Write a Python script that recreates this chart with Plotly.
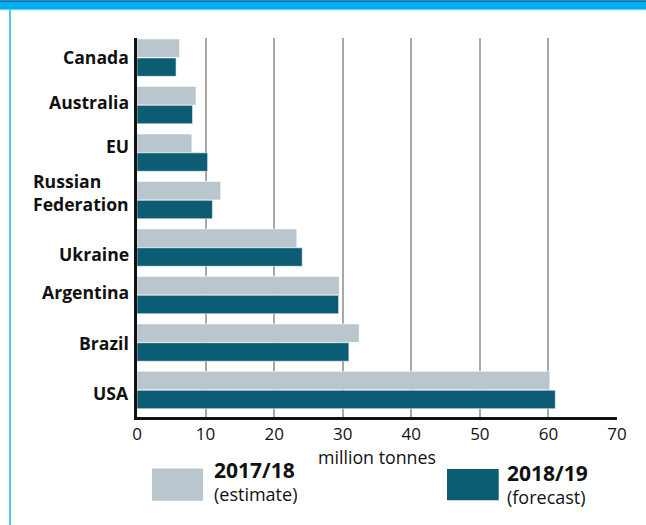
import plotly.graph_objects as go

# Export volumes, million tonnes
countries = ["Canada", "Australia", "EU", "Russian<br>Federation",
             "Ukraine", "Argentina", "Brazil", "USA"]
est_2017_18 = [6.2, 8.6, 8.0, 12.2, 23.3, 29.5, 32.4, 60.2]
fcst_2018_19 = [5.7, 8.1, 10.3, 11.0, 24.1, 29.4, 30.9, 61.0]
series_names = ["2017/18", "2018/19"]
series_notes = ["(estimate)", "(forecast)"]
x_ticks = [0, 10, 20, 30, 40, 50, 60, 70]

GREY = "#b9c6ce"
TEAL = "#0c5d74"
FONT = "Open Sans"

W, H = 646, 525
L, R, T, B = 137, 29, 37.5, 108.3
PW, PH = W - L - R, H - T - B


def px(x):
    return (x - L) / PW


def py(y):
    return (H - B - y) / PH


fig = go.Figure()
for name, vals, col in [(series_names[0], est_2017_18, GREY),
                        (series_names[1], fcst_2018_19, TEAL)]:
    fig.add_trace(go.Bar(
        y=countries, x=vals, name=name, orientation="h",
        marker=dict(color=col, line=dict(color="rgba(255,255,255,0.55)", width=1)),
        showlegend=False,
    ))

shapes = [
    # frame: top band and left rule
    dict(type="rect", xref="paper", yref="paper", x0=px(0), x1=px(W), y0=py(10), y1=py(0),
         fillcolor="#bfeafb", line=dict(width=0), layer="above"),
    dict(type="rect", xref="paper", yref="paper", x0=px(0), x1=px(W), y0=py(9), y1=py(0),
         fillcolor="#00b0f0", line=dict(width=0), layer="above"),
    dict(type="rect", xref="paper", yref="paper", x0=px(0), x1=px(W), y0=py(1), y1=py(0),
         fillcolor="#0b3f73", line=dict(width=0), layer="above"),
    dict(type="rect", xref="paper", yref="paper", x0=px(9), x1=px(11), y0=py(H), y1=py(9),
         fillcolor="#4ccbf8", line=dict(width=0), layer="above"),
    # legend swatches
    dict(type="rect", xref="paper", yref="paper", x0=px(152), x1=px(203), y0=py(500.5), y1=py(468.3),
         fillcolor=GREY, line=dict(width=0)),
    dict(type="rect", xref="paper", yref="paper", x0=px(447), x1=px(498.7), y0=py(500), y1=py(468.7),
         fillcolor=TEAL, line=dict(width=0)),
]

# per-label vertical nudges (px, screen-down positive)
label_nudge = [-1, -3, -7, -8, 6, -3, 0, 3]
annotations = []
for c, d in zip(countries, label_nudge):
    annotations.append(dict(
        x=0, xref="paper", y=c, yref="y", xanchor="right", yanchor="middle",
        xshift=-6, yshift=-d, text=f"<b>{c}</b>", showarrow=False, align="left",
        font=dict(family=FONT, size=17.6, color="#111111"),
    ))

annotations.append(dict(
    x=px(377), y=py(456.7), xref="paper", yref="paper", text="million tonnes",
    showarrow=False, xanchor="center", yanchor="middle",
    font=dict(family=FONT, size=17.8, color="#111111"),
))

# legend captions: bold season over a note in brackets
for (x0, yc), name, note in zip([(212, 480.3), (505, 484.2)], series_names, series_notes):
    annotations.append(dict(
        x=px(x0), y=py(yc), xref="paper", yref="paper",
        text=f"<b><span style='font-size:21px'>{name}</span></b><br>{note}",
        showarrow=False, xanchor="left", yanchor="middle", align="left",
        font=dict(family=FONT, size=18, color="#111111"),
    ))

fig.update_layout(
    width=W, height=H,
    margin=dict(l=L, r=R, t=T, b=B, pad=0),
    paper_bgcolor="white", plot_bgcolor="white",
    barmode="group", bargap=0.206, bargroupgap=0.02,
    shapes=shapes, annotations=annotations,
    font=dict(family=FONT, color="#111111"),
    xaxis=dict(
        range=[0, 70], tickvals=x_ticks, ticktext=[str(v) for v in x_ticks],
        showgrid=True, gridcolor="#a8a8a8", gridwidth=1.5,
        showline=True, linecolor="#111111", linewidth=2.5,
        zeroline=False, ticks="", ticklabelstandoff=0,
        tickfont=dict(family=FONT, size=17, color="#111111"),
        fixedrange=True,
    ),
    yaxis=dict(
        type="category", categoryorder="array", categoryarray=countries,
        range=[7.568, -0.415], showticklabels=False, showgrid=False,
        showline=True, linecolor="#111111", linewidth=2.5, zeroline=False,
        fixedrange=True,
    ),
)

fig.write_html("out.html")
